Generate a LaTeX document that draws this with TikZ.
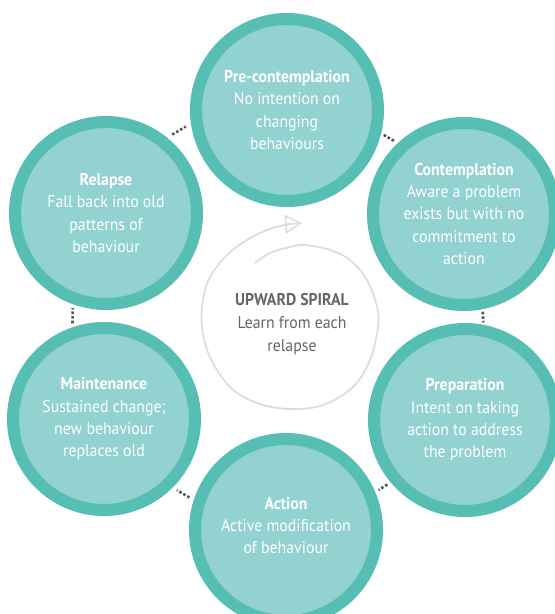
\documentclass[tikz,border=0pt]{standalone}
\usepackage{fontspec}
\setmainfont{PT Sans}[FakeStretch=0.93]
\usetikzlibrary{arrows.meta}
\definecolor{ringc}{HTML}{56BEB2}
\definecolor{innerc}{HTML}{92D2D0}
\definecolor{dotc}{HTML}{555555}
\definecolor{spiralc}{HTML}{DDDDDD}
\definecolor{ctext}{HTML}{666666}
\begin{document}
\begin{tikzpicture}[x=1pt,y=-1pt,
  stage/.style={circle, draw=ringc, fill=innerc, line width=12pt,
    minimum size=182pt, inner sep=0pt, text=white, align=center,
    font=\fontsize{17}{22.3}\selectfont},
  centretext/.style={align=center, text=ctext, inner sep=0pt,
    font=\fontsize{17}{22.8}\selectfont},
  dotline/.style={draw=dotc, line width=2.6pt, dash pattern=on 2.6pt off 2pt},
  spiralline/.style={draw=spiralc, line width=1.8pt, line cap=round}
]
\fill[white] (0,0) rectangle (555,614);
\useasboundingbox (0,0) rectangle (555,614);

\node[stage] (pre)     at (287,110) {\textbf{Pre-contemplation}\\No intention on\\changing\\behaviours};
\node[stage] (cont)    at (464,214) {\textbf{Contemplation}\\Aware a problem\\exists but with no\\commitment to\\action};
\node[stage] (prep)    at (465,420) {\textbf{Preparation}\\Intent on taking\\action to address\\the problem};
\node[stage] (action)  at (286,530) {\textbf{Action}\\Active modification\\of behaviour\\[-13pt]\mbox{}};
\node[stage] (maint)   at (104,419) {\textbf{Maintenance}\\Sustained change;\\new behaviour\\replaces old};
\node[stage] (relapse) at (106,213) {\textbf{Relapse}\\Fall back into old\\patterns of\\behaviour};

\draw[dotline, shorten <=6pt, shorten >=6pt] (relapse.51) -- (pre.188);
\draw[dotline, shorten <=3pt, shorten >=3pt] (pre.-14) -- (cont.133);
\draw[dotline, shorten <=2.5pt, shorten >=2.5pt] (cont.-79) -- (prep.79);
\draw[dotline, shorten <=4pt, shorten >=4pt] (prep.-140) -- (action.23);
\draw[dotline, shorten <=5pt, shorten >=5pt] (action.162) -- (maint.-45);
\draw[dotline, shorten <=4pt, shorten >=4pt] (maint.109) -- (relapse.-110);

\draw[spiralline, -{Triangle[open, length=17pt, width=19pt, line width=1.6pt]}]
  plot[smooth, tension=0.6] coordinates {
  (255,263) (270,253) (290,247) (305,245) (330,250) (350,260) (367,280)
  (377,307) (378,327) (370,360) (353,387) (323,405) (290,409) (257,403)
  (230,387) (210,357) (202,327) (203,300) (210,277) (227,255) (247,240)
  (267,230) (285,225) (302,223)};

\node[centretext] (spiral) at (292,324) {\textbf{UPWARD SPIRAL}\\Learn from each\\relapse};
\end{tikzpicture}
\end{document}
